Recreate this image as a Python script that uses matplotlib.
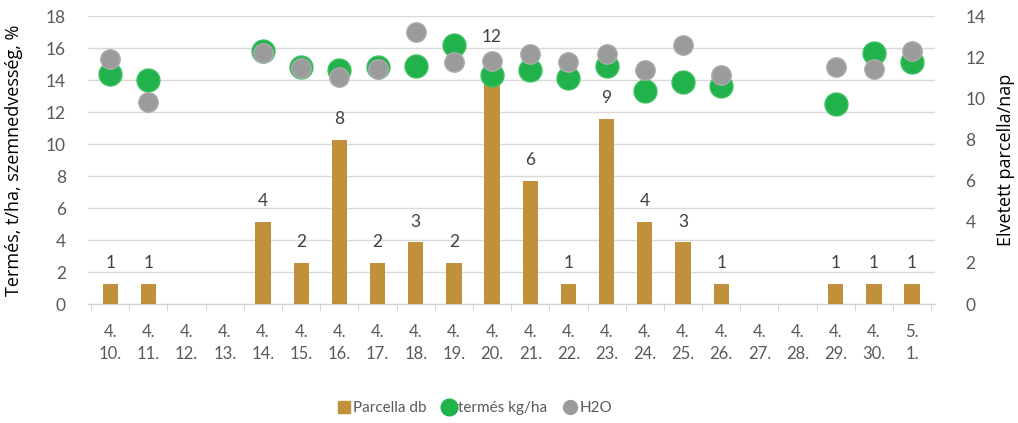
import matplotlib
matplotlib.use("Agg")
import matplotlib.pyplot as plt
from matplotlib.lines import Line2D
import numpy as np

# Harvest days (month. / day.)
days = ["4.\n10.", "4.\n11.", "4.\n12.", "4.\n13.", "4.\n14.", "4.\n15.", "4.\n16.",
        "4.\n17.", "4.\n18.", "4.\n19.", "4.\n20.", "4.\n21.", "4.\n22.", "4.\n23.",
        "4.\n24.", "4.\n25.", "4.\n26.", "4.\n27.", "4.\n28.", "4.\n29.", "4.\n30.",
        "5.\n1."]

# Plots harvested per day (right axis)
parcella_db = [1, 1, 0, 0, 4, 2, 8, 2, 3, 2, 12, 6, 1, 9, 4, 3, 1, 0, 0, 1, 1, 1]

# Yield, t/ha (left axis)
termes = [14.4, 14.0, np.nan, np.nan, 15.8, 14.8, 14.6, 14.8, 14.9, 16.2, 14.3,
          14.6, 14.1, 14.9, 13.3, 13.9, 13.6, np.nan, np.nan, 12.5, 15.7, 15.1]

# Grain moisture, % (left axis)
h2o = [15.3, 12.6, np.nan, np.nan, 15.7, 14.75, 14.2, 14.7, 17.0, 15.1, 15.2,
       15.6, 15.1, 15.6, 14.6, 16.2, 14.3, np.nan, np.nan, 14.8, 14.7, 15.8]

BAR = "#c0913a"
GREEN = "#22b24c"
GREY = "#9b9b9b"
TICK_COL = "#595959"

fig = plt.figure(figsize=(10.18, 4.23), dpi=100)
ax = fig.add_axes([0.0865, 0.281, 0.832, 0.681])
ax2 = ax.twinx()

x = np.arange(len(days))

# Bars on the right scale
ax2.bar(x, parcella_db, width=0.4, color=BAR, zorder=2)
for xi, v in zip(x, parcella_db):
    if v > 0:
        ax2.annotate(str(v), (xi, v), xytext=(0, 9), textcoords="offset points",
                     ha="center", va="bottom", fontsize=12.5, color="#404040",
                     family="Lato")

# Dots on the left scale, drawn above the bars
ax2.plot(x, termes, ls="none", marker="o", ms=16.5, color=GREEN,
         markeredgecolor="#3cc060", markeredgewidth=1, transform=ax.transData, zorder=4)
ax2.plot(x, h2o, ls="none", marker="o", ms=14, color=GREY,
         markeredgecolor="#acacac", markeredgewidth=1, transform=ax.transData, zorder=5)

ax.set_xlim(-0.58, 21.6)
ax2.set_xlim(-0.58, 21.6)
ax.set_ylim(0, 18)
ax2.set_ylim(0, 14)
ax.set_yticks(np.arange(0, 19, 2))
ax2.set_yticks(np.arange(0, 15, 2))

ax.yaxis.grid(True, color="#d9d9d9", lw=1)
ax.set_axisbelow(True)

for a in (ax, ax2):
    for s in a.spines.values():
        s.set_visible(False)
ax.spines["bottom"].set_visible(True)
ax.spines["bottom"].set_color("#d0d0d0")

ax.set_xticks(x)
ax.set_xticklabels(days, fontsize=12, color=TICK_COL, family="Lato", linespacing=1.5)
ax.set_xticks(np.arange(-0.5, 22, 1), minor=True)
ax.tick_params(axis="x", which="major", length=0, pad=14)
ax.tick_params(axis="x", which="minor", length=5, color="#d0d0d0")
ax.tick_params(axis="y", length=0, labelsize=12.5, labelcolor=TICK_COL, pad=16)
ax2.tick_params(axis="y", length=0, labelsize=12.5, labelcolor=TICK_COL, pad=22)
for lab in ax.get_yticklabels() + ax2.get_yticklabels():
    lab.set_family("Lato")

ax.set_ylabel("Termés, t/ha, szemnedvesség, %", fontsize=13, family="Open Sans",
              color="#000000", labelpad=16)
ax2.set_ylabel("Elvetett parcella/nap", fontsize=13, family="Open Sans",
               color="#000000", labelpad=8)

handles = [
    Line2D([], [], ls="none", marker="s", ms=8, color=BAR),
    Line2D([], [], ls="none", marker="o", ms=12, color=GREEN),
    Line2D([], [], ls="none", marker="o", ms=10, color=GREY),
]
fig.legend(handles, ["Parcella db", "termés kg/ha", "H2O"], loc="center",
           bbox_to_anchor=(0.465, 0.035), ncol=3, frameon=False, handletextpad=0.0,
           handlelength=1.2, columnspacing=0.9, prop={"family": "Lato", "size": 11},
           labelcolor=TICK_COL)

fig.savefig("out.png", dpi=100)
